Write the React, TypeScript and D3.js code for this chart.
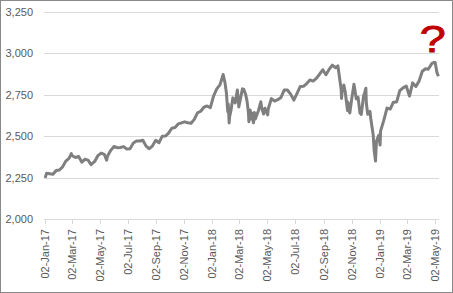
import React from "react";
import * as d3 from "d3";

const dates: string[] = [
  "2017-01-03","2017-01-06","2017-01-13","2017-01-20","2017-01-27","2017-02-03","2017-02-10","2017-02-17","2017-02-24","2017-03-01",
  "2017-03-03","2017-03-10","2017-03-17","2017-03-24","2017-03-31","2017-04-07","2017-04-13","2017-04-21","2017-04-28","2017-05-05",
  "2017-05-12","2017-05-17","2017-05-19","2017-05-26","2017-06-02","2017-06-09","2017-06-16","2017-06-23","2017-06-30","2017-07-07",
  "2017-07-14","2017-07-21","2017-07-28","2017-08-04","2017-08-11","2017-08-18","2017-08-25","2017-09-01","2017-09-08","2017-09-15",
  "2017-09-22","2017-09-29","2017-10-06","2017-10-13","2017-10-20","2017-10-27","2017-11-03","2017-11-10","2017-11-17","2017-11-24",
  "2017-12-01","2017-12-08","2017-12-15","2017-12-22","2017-12-29",
  "2018-01-05","2018-01-12","2018-01-19","2018-01-26","2018-01-30","2018-02-02","2018-02-05","2018-02-06","2018-02-08","2018-02-09",
  "2018-02-12","2018-02-16","2018-02-21","2018-02-26","2018-03-01","2018-03-02","2018-03-09","2018-03-12","2018-03-16","2018-03-19",
  "2018-03-22","2018-03-23","2018-03-26","2018-03-28","2018-03-29","2018-04-02","2018-04-04","2018-04-06","2018-04-11","2018-04-13",
  "2018-04-18","2018-04-20","2018-04-24","2018-04-27","2018-05-03","2018-05-04","2018-05-11","2018-05-18","2018-05-25","2018-06-01",
  "2018-06-08","2018-06-15","2018-06-22","2018-06-29","2018-07-06","2018-07-13","2018-07-20","2018-07-27","2018-08-03","2018-08-10",
  "2018-08-17","2018-08-24","2018-08-31","2018-09-07","2018-09-14","2018-09-21","2018-09-28","2018-10-03","2018-10-05","2018-10-10",
  "2018-10-11","2018-10-12","2018-10-16","2018-10-19","2018-10-24","2018-10-25","2018-10-26","2018-10-29","2018-11-02","2018-11-07",
  "2018-11-09","2018-11-12","2018-11-16","2018-11-20","2018-11-23","2018-11-28","2018-11-30","2018-12-03","2018-12-04","2018-12-07",
  "2018-12-12","2018-12-14","2018-12-17","2018-12-19","2018-12-21","2018-12-24","2018-12-26","2018-12-28","2018-12-31",
  "2019-01-03","2019-01-04","2019-01-11","2019-01-18","2019-01-25","2019-02-01","2019-02-08","2019-02-15","2019-02-22","2019-03-01",
  "2019-03-08","2019-03-15","2019-03-22","2019-03-29","2019-04-05","2019-04-12","2019-04-18","2019-04-26","2019-04-30","2019-05-03",
  "2019-05-07","2019-05-10"
];

const closes: number[] = [
  2250.0,2277.0,2274.6,2271.3,2294.7,2297.4,2316.1,2351.2,2367.3,2396.0,
  2383.1,2372.6,2378.3,2344.0,2362.7,2355.5,2329.0,2348.7,2384.2,2399.3,
  2390.9,2357.0,2381.7,2415.8,2439.1,2431.8,2433.2,2438.3,2423.4,2425.2,
  2459.3,2472.5,2472.1,2476.8,2441.3,2425.6,2443.1,2476.6,2461.4,2500.2,
  2502.2,2519.4,2549.3,2553.2,2575.2,2581.1,2587.8,2582.3,2578.9,2602.4,
  2642.2,2651.5,2675.8,2683.3,2673.6,
  2743.2,2786.2,2810.3,2872.9,2822.4,2762.1,2648.9,2695.1,2581.0,2619.6,
  2656.0,2732.2,2701.3,2779.6,2677.7,2691.3,2786.6,2783.0,2752.0,2712.9,
  2643.7,2588.3,2658.6,2605.0,2640.9,2581.9,2644.7,2604.5,2642.2,2656.3,
  2708.6,2670.1,2634.6,2669.9,2629.7,2663.4,2727.7,2713.0,2721.3,2734.6,
  2779.0,2779.7,2754.9,2718.4,2759.8,2801.3,2801.8,2818.8,2840.4,2833.3,
  2850.1,2874.7,2901.5,2871.7,2905.0,2929.7,2914.0,2925.5,2885.6,2785.7,
  2728.4,2767.1,2809.9,2767.8,2656.1,2705.6,2658.7,2641.3,2723.1,2813.9,
  2781.0,2726.2,2736.3,2641.9,2632.6,2743.8,2760.2,2790.4,2700.1,2633.1,
  2651.1,2600.0,2545.9,2507.0,2416.6,2351.1,2467.7,2485.7,2506.9,
  2447.9,2531.9,2596.3,2670.7,2664.8,2706.5,2707.9,2775.6,2792.7,2803.7,
  2743.1,2822.5,2800.7,2834.4,2892.7,2907.4,2905.0,2939.9,2945.8,2945.6,
  2884.1,2863.0
];

const yTicks: number[] = [2000, 2250, 2500, 2750, 3000, 3250];
const xTickDates: string[] = [
  "2017-01-02","2017-03-02","2017-05-02","2017-07-02","2017-09-02","2017-11-02",
  "2018-01-02","2018-03-02","2018-05-02","2018-07-02","2018-09-02","2018-11-02",
  "2019-01-02","2019-03-02","2019-05-02"
];

const W = 453, H = 293;
const parse = d3.timeParse("%Y-%m-%d");
const fmtX = d3.timeFormat("%d-%b-%y");
const fmtY = d3.format(",");

export default function App() {
  const x = d3.scaleTime()
    .domain([parse("2017-01-02")!, parse("2019-05-02")!])
    .range([44.7, 434.7]);
  const y = d3.scaleLinear().domain([2000, 3250]).range([219.3, 12]);
  const pts = dates.map((d, i) => ({ d: parse(d)!, v: closes[i] }));
  const line = d3.line<{ d: Date; v: number }>().x(p => x(p.d)).y(p => y(p.v));
  const font = "'Liberation Sans', Arial, sans-serif";
  return (
    <svg width={W} height={H} style={{ position: "absolute", left: 0, top: 0 }}>
      <rect x={0.5} y={0.5} width={W - 1} height={H - 1} fill="#fff" stroke="#898989" />
      {yTicks.map(t => (
        <g key={t}>
          {t !== 2000 && (
            <line x1={44} x2={439} y1={Math.round(y(t)) + 0.5} y2={Math.round(y(t)) + 0.5} stroke="#d9d9d9" />
          )}
          <text x={33} y={y(t) + 4} textAnchor="end" fontFamily={font} fontSize={11} fill="#595959">
            {fmtY(t)}
          </text>
        </g>
      ))}
      <line x1={44} x2={439} y1={Math.round(y(2000)) + 0.5} y2={Math.round(y(2000)) + 0.5} stroke="#d9d9d9" />
      {xTickDates.map(s => {
        const d = parse(s)!;
        const xx = Math.round(x(d)) + 0.5;
        return (
          <g key={s}>
            <line x1={xx} x2={xx} y1={219.5} y2={224} stroke="#d9d9d9" />
            <text
              transform={`translate(${x(d) + 4},229) rotate(-90)`}
              textAnchor="end"
              fontFamily={font}
              fontSize={11}
              fill="#595959"
            >
              {fmtX(d)}
            </text>
          </g>
        );
      })}
      <path d={line(pts) || ""} fill="none" stroke="#7f7f7f" strokeWidth={3} strokeLinejoin="round" />
      <text
        transform="translate(432.7,51.5) scale(1.3,1)"
        textAnchor="middle"
        fontFamily={font}
        fontSize={36}
        fill="#c00000"
        stroke="#c00000"
        strokeWidth={0.8}
      >
        ?
      </text>
    </svg>
  );
}
